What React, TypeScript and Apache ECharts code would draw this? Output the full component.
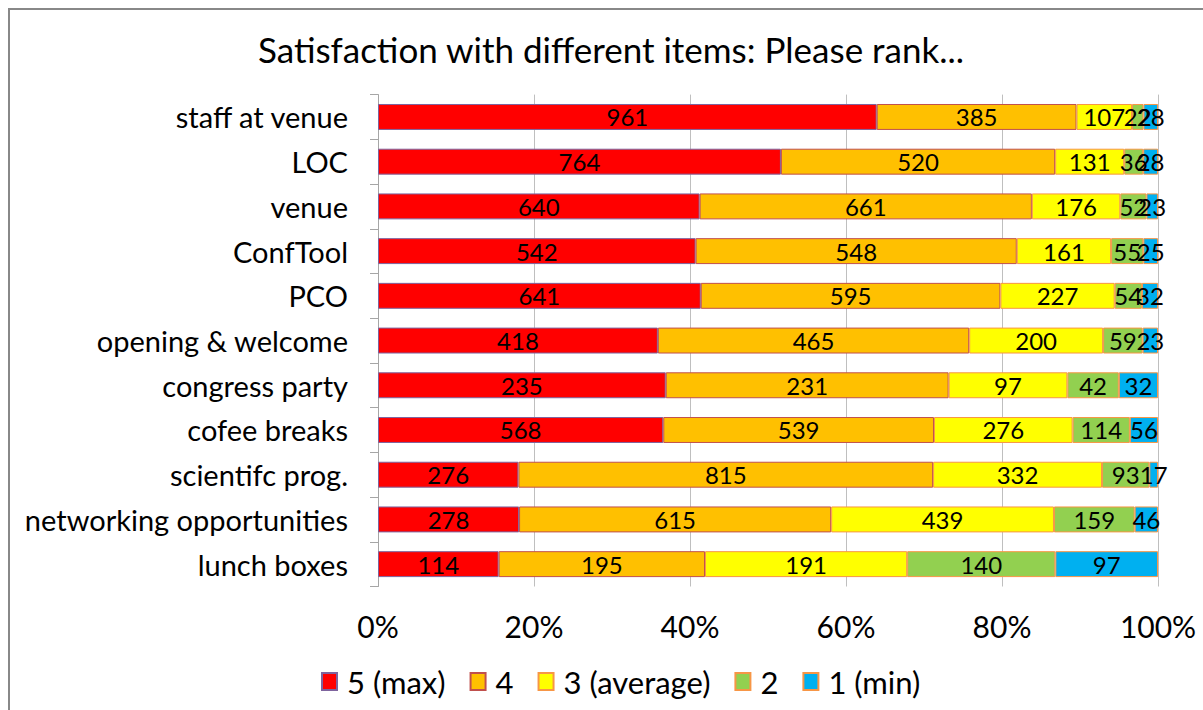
import React, { useEffect, useRef } from "react";
import * as echarts from "echarts";

const categories = [
  "staff at venue",
  "LOC",
  "venue",
  "ConfTool",
  "PCO",
  "opening & welcome",
  "congress party",
  "cofee breaks",
  "scientifc prog.",
  "networking opportunities",
  "lunch boxes",
];
const s5 = [961, 764, 640, 542, 641, 418, 235, 568, 276, 278, 114];
const s4 = [385, 520, 661, 548, 595, 465, 231, 539, 815, 615, 195];
const s3 = [107, 131, 176, 161, 227, 200, 97, 276, 332, 439, 191];
const s2 = [22, 36, 52, 55, 54, 59, 42, 114, 93, 159, 140];
const s1 = [28, 28, 23, 25, 32, 23, 32, 56, 17, 46, 97];
const seriesNames = ["5 (max)", "4", "3 (average)", "2", "1 (min)"];
const seriesValues = [s5, s4, s3, s2, s1];
const colors = ["#FF0000", "#FFC000", "#FFFF00", "#92D050", "#00B0F0"];
const borders = ["#7e649e", "#c0504d", "#f79646", "#f79646", "#f79646"];
const xTicks = [0, 20, 40, 60, 80, 100];

const FONT = "Lato, 'Open Sans', sans-serif";

export default function App() {
  const ref = useRef<HTMLDivElement>(null);
  useEffect(() => {
    if (!ref.current) return;
    const chart = echarts.init(ref.current, null, { renderer: "svg" });
    const totals = categories.map((_, i) =>
      seriesValues.reduce((a, s) => a + s[i], 0)
    );
    chart.setOption({
      animation: false,
      textStyle: { fontFamily: FONT },
      title: {
        text: "Satisfaction with different items: Please rank...",
        left: 606,
        textAlign: "center",
        top: 26,
        textStyle: { fontFamily: FONT, fontSize: 35, fontWeight: "normal", color: "#000" },
      },
      graphic: [
        { type: "line", shape: { x1: 8, y1: 9, x2: 1203, y2: 9 }, style: { stroke: "#888", lineWidth: 2 } },
        { type: "line", shape: { x1: 9, y1: 8, x2: 9, y2: 710 }, style: { stroke: "#888", lineWidth: 2 } },
      ],
      legend: {
        bottom: 8,
        left: 316,
        icon: "rect",
        itemWidth: 15,
        itemHeight: 17,
        itemGap: 24,
        textStyle: { fontFamily: FONT, fontSize: 31, color: "#000", padding: [0, 0, 0, 5] },
        data: seriesNames,
      },
      grid: {
        left: 378,
        right: 45,
        top: 94.6,
        bottom: 123.5,
        containLabel: false,
        outerBoundsMode: "none",
      },
      xAxis: {
        type: "value",
        min: 0,
        max: 100,
        interval: 20,
        axisLine: { show: false },
        axisTick: { show: false },
        axisLabel: {
          formatter: (v: number) => (xTicks.includes(v) ? v + "%" : ""),
          fontFamily: FONT,
          fontSize: 30,
          color: "#000",
          margin: 24,
        },
        splitLine: { show: true, lineStyle: { color: "#bfbfbf", width: 1 } },
      },
      yAxis: {
        type: "category",
        inverse: true,
        data: categories,
        axisLine: { show: true, lineStyle: { color: "#a6a6a6", width: 1 } },
        axisTick: { show: true, length: 8, lineStyle: { color: "#a6a6a6" } },
        axisLabel: { fontFamily: FONT, fontSize: 29, color: "#000", margin: 30 },
      },
      series: seriesNames.map((name, k) => ({
        name,
        type: "bar",
        stack: "total",
        barCategoryGap: "42%",
        data: seriesValues[k].map((v, i) => (v / totals[i]) * 100),
        itemStyle: { color: colors[k], borderColor: borders[k], borderWidth: 1 },
        label: {
          show: true,
          position: "inside",
          color: "#000",
          fontFamily: FONT,
          fontSize: 24,
          formatter: (p: any) => String(seriesValues[k][p.dataIndex]),
        },
        emphasis: { disabled: true },
      })),
    });
    return () => chart.dispose();
  }, []);
  return (
    <div
      ref={ref}
      style={{ position: "absolute", left: 0, top: 0, width: 1203, height: 710, background: "#fff" }}
    />
  );
}
